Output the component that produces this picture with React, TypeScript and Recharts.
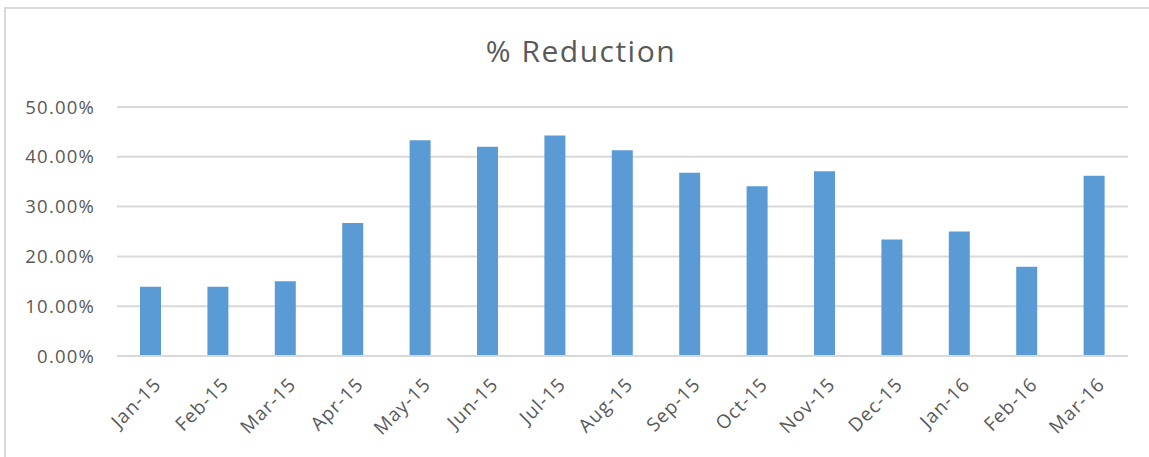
import { BarChart, Bar, XAxis, YAxis, CartesianGrid } from "recharts"

const months = [
  "Jan-15", "Feb-15", "Mar-15", "Apr-15", "May-15", "Jun-15", "Jul-15", "Aug-15",
  "Sep-15", "Oct-15", "Nov-15", "Dec-15", "Jan-16", "Feb-16", "Mar-16",
]
const reduction = [
  0.139, 0.139, 0.15, 0.267, 0.433, 0.42, 0.443, 0.413,
  0.368, 0.341, 0.371, 0.234, 0.25, 0.179, 0.362,
]
const yTicks = [0, 0.1, 0.2, 0.3, 0.4, 0.5]

const textColor = "#595959"
const font = "'Open Sans', 'Noto Sans', sans-serif"

const data = months.map((m, i) => ({ month: m, value: reduction[i] }))

function MonthTick(props: any) {
  const { x, y, payload } = props
  const ax = x + 7
  const ay = y + 17
  return (
    <text
      x={ax}
      y={ay}
      dy="0.35em"
      textAnchor="end"
      transform={`rotate(-45, ${ax}, ${ay})`}
      fill={textColor}
      fontSize={19}
      letterSpacing={1}
      fontFamily={font}
    >
      {payload.value}
    </text>
  )
}

export default function App() {
  return (
    <div style={{ position: "absolute", left: 0, top: 0, width: 1149, height: 457, background: "#fff", overflow: "hidden" }}>
      <div
        style={{
          position: "absolute", left: 4, top: 7, width: 1160, height: 470,
          borderTop: "2px solid #d9d9d9", borderLeft: "2px solid #d9d9d9",
        }}
      />
      <div
        style={{
          position: "absolute", left: 0, top: 30, width: 1162, textAlign: "center",
          fontFamily: font, fontSize: 30, color: textColor, letterSpacing: 1.5,
        }}
      >
        % Reduction
      </div>
      <div style={{ position: "absolute", left: 0, top: 0 }}>
        <BarChart width={1149} height={457} data={data} margin={{ top: 107, right: 21, bottom: 0, left: 0 }}>
          <CartesianGrid vertical={false} stroke="#d9d9d9" strokeWidth={2} />
          <XAxis
            dataKey="month"
            height={101}
            interval={0}
            tickLine={false}
            axisLine={{ stroke: "#d9d9d9", strokeWidth: 2 }}
            tick={<MonthTick />}
          />
          <YAxis
            width={117}
            domain={[0, 0.5]}
            ticks={yTicks}
            tickLine={false}
            axisLine={false}
            tickSize={0}
            tickMargin={22}
            tickFormatter={(v: number) => (v * 100).toFixed(2) + "%"}
            tick={{ fill: textColor, fontSize: 18.5, fontFamily: font, letterSpacing: 1.2 }}
          />
          <Bar dataKey="value" fill="#5b9bd5" barSize={21} isAnimationActive={false} />
        </BarChart>
      </div>
    </div>
  )
}
